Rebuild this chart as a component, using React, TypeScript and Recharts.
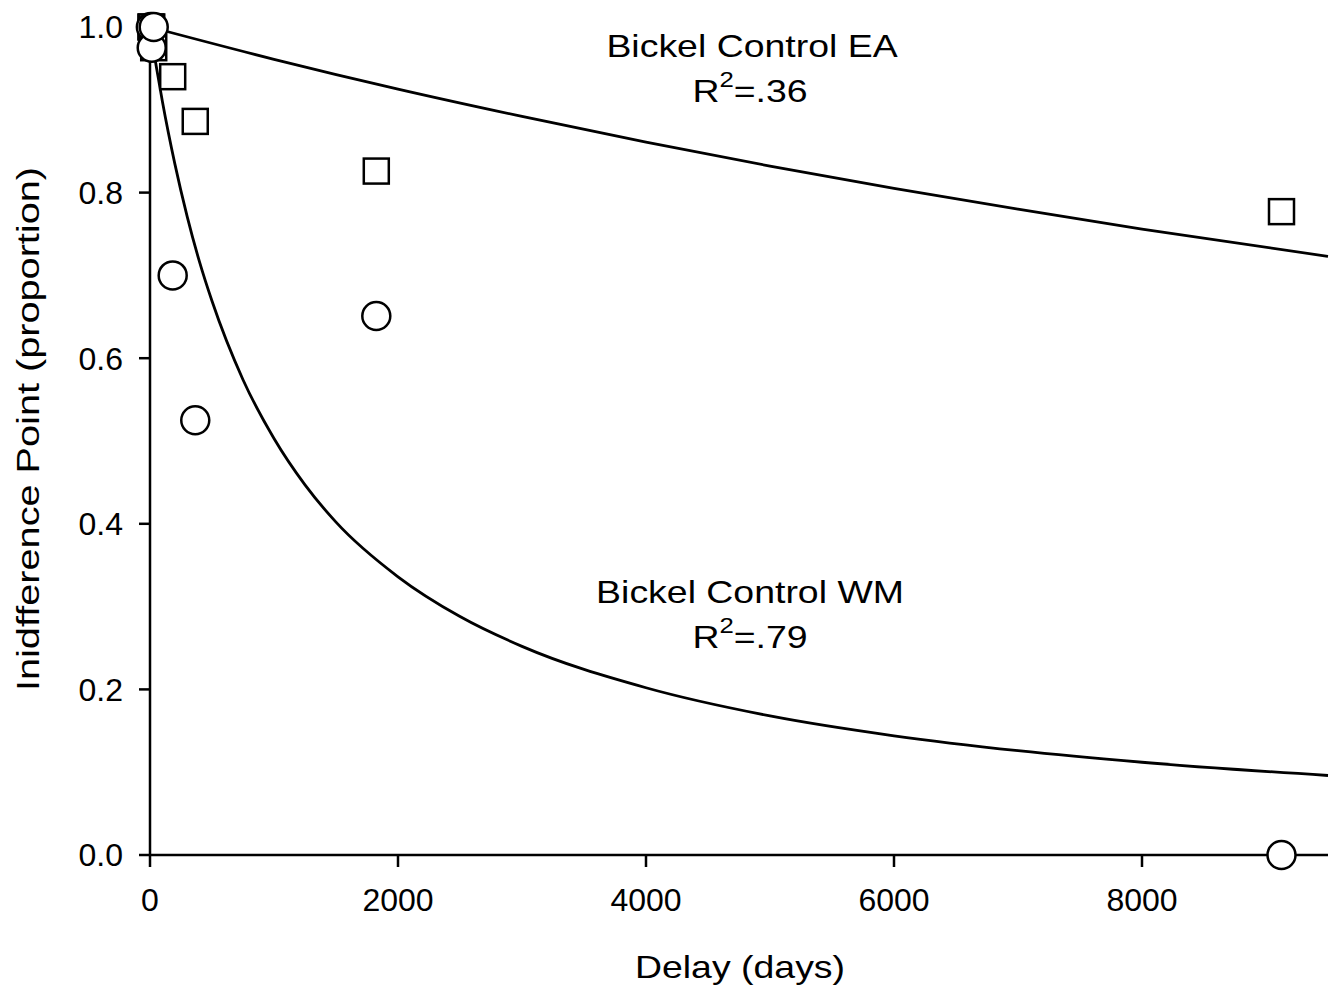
import React from 'react';
import { ComposedChart, XAxis, YAxis, Line, Scatter, Customized } from 'recharts';

const delays = [7, 14, 30, 183, 365, 1825, 9125];
const eaValues = [1.0, 1.0, 0.975, 0.94, 0.886, 0.826, 0.777];
const wmValues = [1.0, 0.975, 1.0, 0.70, 0.525, 0.651, 0.0];

const eaCurveDelays = [0, 1000, 2000, 3000, 4000, 5000, 6000, 7000, 8000, 9500];
const eaCurveValues = [1.0, 0.961, 0.925, 0.892, 0.861, 0.832, 0.805, 0.780, 0.756, 0.723];

const wmCurveDelays = [0, 50, 100, 200, 300, 400, 500, 750, 1000, 1250, 1500, 2000, 2500, 3000, 4000, 5000, 6000, 7000, 8000, 9500];
const wmCurveValues = [1.0, 0.953, 0.91, 0.835, 0.771, 0.716, 0.669, 0.574, 0.503, 0.447, 0.402, 0.336, 0.288, 0.252, 0.202, 0.168, 0.144, 0.126, 0.112, 0.096];

const xTicks = [0, 2000, 4000, 6000, 8000];
const yTicks = [0, 0.2, 0.4, 0.6, 0.8, 1.0];

const eaPoints = delays.map((d, i) => ({ d, v: eaValues[i] }));
const wmPoints = delays.map((d, i) => ({ d, v: wmValues[i] }));
const eaCurve = eaCurveDelays.map((d, i) => ({ d, v: eaCurveValues[i] }));
const wmCurve = wmCurveDelays.map((d, i) => ({ d, v: wmCurveValues[i] }));

const FONT = '"Liberation Sans", Arial, sans-serif';
const SX = 1.17;

const Square = (props: any) => {
  const { cx, cy } = props;
  if (cx == null || cy == null) return null;
  return <rect x={cx - 12.5} y={cy - 12.5} width={25} height={25} fill="#fff" stroke="#000" strokeWidth={2.5} />;
};

const Circle = (props: any) => {
  const { cx, cy } = props;
  if (cx == null || cy == null) return null;
  return <circle cx={cx} cy={cy} r={14} fill="#fff" stroke="#000" strokeWidth={2.5} />;
};

const Stretched = ({ x, y, children, rotate = 0, sx = SX }: any) => (
  <g transform={`translate(${x},${y}) rotate(${rotate}) scale(${sx},1)`}>
    <text x={0} y={0} textAnchor="middle" fontFamily={FONT} fontSize={32} fill="#000">
      {children}
    </text>
  </g>
);

const RLabel = ({ x, y, r }: any) => (
  <g transform={`translate(${x},${y}) scale(${SX},1)`}>
    <text x={0} y={0} textAnchor="middle" fontFamily={FONT} fontSize={32} fill="#000">
      R<tspan fontSize={22} dy={-15}>2</tspan><tspan dy={15}>{r}</tspan>
    </text>
  </g>
);

const Annotations = () => (
  <g>
    <Stretched x={752} y={57}>Bickel Control EA</Stretched>
    <RLabel x={750} y={102} r="=.36" />
    <Stretched x={750} y={603}>Bickel Control WM</Stretched>
    <RLabel x={750} y={648} r="=.79" />
    <Stretched x={740} y={978}>Delay (days)</Stretched>
    <Stretched x={39} y={429} rotate={-90} sx={1.24}>Inidfference Point (proportion)</Stretched>
  </g>
);

export default function App() {
  return (
    <div style={{ position: 'absolute', left: 0, top: 0, background: '#fff' }}>
      <ComposedChart width={1340} height={994} margin={{ top: 27, right: 12, bottom: 0, left: 0 }}>
        <XAxis
          type="number"
          dataKey="d"
          domain={[0, 9500]}
          ticks={xTicks}
          height={139}
          stroke="#000"
          strokeWidth={2.5}
          tickSize={12}
          tickMargin={21}
          tick={{ fill: '#000', fontSize: 32, fontFamily: FONT }}
          tickLine={{ stroke: '#000', strokeWidth: 2.5 }}
        />
        <YAxis
          type="number"
          domain={[0, 1]}
          ticks={yTicks}
          width={150}
          stroke="#000"
          strokeWidth={2.5}
          tickSize={11}
          tickMargin={16}
          tickFormatter={(v: number) => v.toFixed(1)}
          tick={{ fill: '#000', fontSize: 32, fontFamily: FONT }}
          tickLine={{ stroke: '#000', strokeWidth: 2.5 }}
        />
        <Line data={eaCurve} dataKey="v" type="monotone" stroke="#000" strokeWidth={2.8} dot={false} isAnimationActive={false} />
        <Line data={wmCurve} dataKey="v" type="monotone" stroke="#000" strokeWidth={2.8} dot={false} isAnimationActive={false} />
        <Scatter data={eaPoints} dataKey="v" shape={Square} isAnimationActive={false} />
        <Scatter data={wmPoints} dataKey="v" shape={Circle} isAnimationActive={false} />
        <Customized component={Annotations} />
      </ComposedChart>
    </div>
  );
}
